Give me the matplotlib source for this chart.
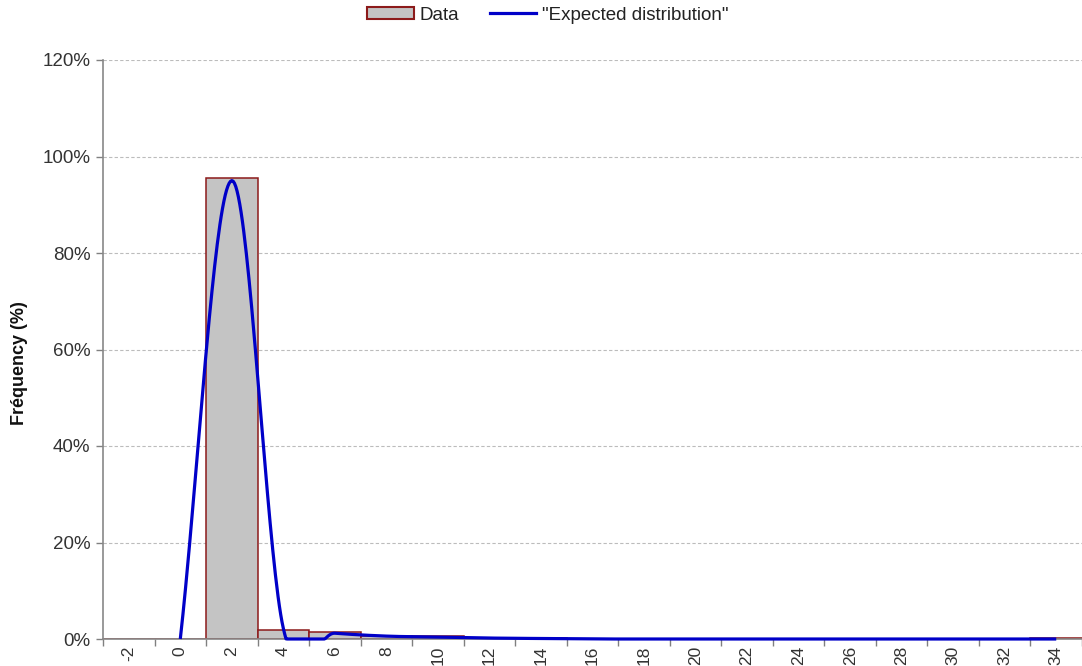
import numpy as np
import matplotlib
matplotlib.use("Agg")
import matplotlib.pyplot as plt
from matplotlib.patches import Patch
from matplotlib.lines import Line2D
from matplotlib.ticker import FixedLocator, PercentFormatter

plt.rcParams['font.family'] = ['Liberation Sans', 'DejaVu Sans']

categories = [-2, 0, 2, 4, 6, 8, 10, 12, 14, 16, 18, 20, 22, 24, 26, 28, 30, 32, 34]
data = [0, 0, 0.955, 0.019, 0.014, 0.006, 0.006, 0.002, 0.002,
        0, 0, 0, 0, 0, 0, 0, 0, 0, 0.003]
expected = [np.nan, 0, 0.95, 0.022, 0.012, 0.006, 0.004, 0.002, 0.001,
            0, 0, 0, 0, 0, 0, 0, 0, 0, 0]


def smooth(xs, ys, n=40):
    # Catmull-Rom style smoothing, like a spreadsheet "smoothed line"
    xs = np.asarray(xs, float)
    ys = np.asarray(ys, float)
    m = np.zeros_like(ys)
    m[1:-1] = (ys[2:] - ys[:-2]) / 2
    m[0] = ys[1] - ys[0]
    m[-1] = ys[-1] - ys[-2]
    out_x, out_y = [], []
    t = np.linspace(0, 1, n)
    h00 = 2 * t**3 - 3 * t**2 + 1
    h10 = t**3 - 2 * t**2 + t
    h01 = -2 * t**3 + 3 * t**2
    h11 = t**3 - t**2
    for i in range(len(xs) - 1):
        out_x.append(xs[i] + t * (xs[i + 1] - xs[i]))
        out_y.append(h00 * ys[i] + h10 * m[i] + h01 * ys[i + 1] + h11 * m[i + 1])
    return np.concatenate(out_x), np.concatenate(out_y)


fig = plt.figure(figsize=(10.82, 6.66), dpi=100)
ax = fig.add_axes([103 / 1082, 1 - 639 / 666, 979 / 1082, 579 / 666])

pos = np.arange(len(categories))
ax.bar(pos, data, width=1.0, color='#c4c4c4', edgecolor='#8c1a1a',
       linewidth=1.1, zorder=2)

ex = np.array(expected)
ok = ~np.isnan(ex)
sx, sy = smooth(pos[ok], ex[ok])
# the plot area cuts the curve off at 0%
sy = np.maximum(sy, 0)
ax.plot(sx, sy, color='#0000c8', linewidth=2.3, zorder=3, clip_on=False,
        solid_capstyle='butt')

ax.set_xlim(-0.5, len(categories) - 0.5)
ax.set_ylim(0, 1.2)

ax.xaxis.set_major_locator(FixedLocator(pos))
ax.set_xticklabels([str(c) for c in categories], rotation=90, va='top')
ax.xaxis.set_minor_locator(FixedLocator(np.arange(len(categories) + 1) - 0.5))
ax.tick_params(axis='x', which='major', length=0, pad=5, labelsize=12.5)
ax.tick_params(axis='x', which='minor', length=5, color='#808080', width=1)

ax.set_yticks(np.arange(0, 1.21, 0.2))
ax.yaxis.set_major_formatter(PercentFormatter(1.0, decimals=0))
ax.tick_params(axis='y', length=5, color='#808080', width=1, pad=4, labelsize=13.5)
ax.tick_params(labelcolor='#333333')

ax.grid(axis='y', color='#bcbcbc', linestyle=(0, (3, 2)), linewidth=0.8)
ax.set_axisbelow(True)
for s in ['top', 'right']:
    ax.spines[s].set_visible(False)
for s in ['left', 'bottom']:
    ax.spines[s].set_color('#888888')
    ax.spines[s].set_linewidth(1.2)

fig.text(20 / 1082, 1 - 363 / 666, 'Fréquency (%)', rotation=90,
         ha='center', va='center', fontsize=13, fontweight='bold', color='#111111')

handles = [Patch(facecolor='#c4c4c4', edgecolor='#8c1a1a', linewidth=1.5),
           Line2D([], [], color='#0000c8', linewidth=2.3)]
fig.legend(handles, ['Data', '"Expected distribution"'], loc='center',
           bbox_to_anchor=(548 / 1082, 1 - 15 / 666), ncol=2, frameon=False,
           fontsize=13.5, handlelength=2.5, handleheight=0.6,
           handletextpad=0.3, columnspacing=1.6, labelcolor='#222222')

fig.savefig('out.png', dpi=100)
